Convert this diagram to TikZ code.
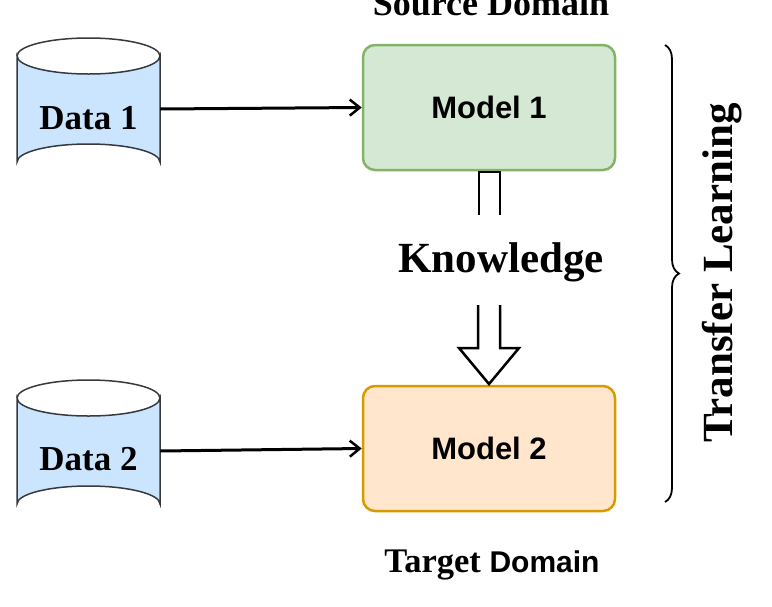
\documentclass[tikz,border=0pt]{standalone}
\usepackage{fontspec}
\setmainfont{Liberation Serif}
\setsansfont{Liberation Sans}
\usetikzlibrary{shapes.geometric,arrows.meta,decorations.pathreplacing}
\definecolor{gfill}{HTML}{D5E8D4}\definecolor{gline}{HTML}{82B366}
\definecolor{ofill}{HTML}{FFE6CC}\definecolor{oline}{HTML}{D79B00}
\definecolor{bfill}{HTML}{CCE5FF}\definecolor{bline}{HTML}{36393D}
\tikzset{
 dbline/.style={draw=bline,fill=bfill,line width=1.5pt},
 dbtext/.style={font=\bfseries\fontsize{35}{38}\selectfont,minimum width=143pt,minimum height=142pt,inner sep=0pt,text depth=0pt},
 model/.style={draw,rounded corners=12pt,line width=2.5pt,minimum width=252pt,minimum height=125pt,font=\sffamily\bfseries\fontsize{31}{36}\selectfont},
 conn/.style={line width=3pt,-{Straight Barb[length=10pt,width=16pt,line width=2.5pt]}},
}
\begin{document}
\begin{tikzpicture}[x=1pt,y=-1pt]
\useasboundingbox (0,0) rectangle (772,606);
\foreach \yy in {38,380}{
 \path[dbline] (17,\yy+18) -- (17,\yy+124) arc[start angle=180,end angle=360,x radius=71.5,y radius=18] -- (160,\yy+18) arc[start angle=0,end angle=180,x radius=71.5,y radius=18] -- cycle;
 \draw[bline,line width=1.5pt] (17,\yy+18) arc[start angle=180,end angle=360,x radius=71.5,y radius=18];
}
\node[dbtext] (d1) at (88.5,109) {\raisebox{-18pt}{Data 1}};
\node[dbtext] (d2) at (88.5,451) {\raisebox{-16pt}{Data 2}};
\node[model,fill=gfill,draw=gline] (m1) at (489,107.5) {Model 1};
\node[model,fill=ofill,draw=oline] (m2) at (489,448.5) {Model 2};
\draw[conn] (d1.east) -- (m1.west);
\draw[conn] (d2.east) -- (m2.west);
\node[font=\bfseries\fontsize{43}{45}\selectfont] (kn) at (501,262) {Knowledge};
\node[font=\bfseries\fontsize{36}{38}\selectfont,anchor=north] (src) at (491,-13) {Source Domain};
\node[font=\fontsize{34.5}{38}\selectfont,anchor=base] (tgt) at (492,572) {\textbf{Target} \textsf{\bfseries\fontsize{30}{32}\selectfont Domain}};
\draw[line width=2.5pt] (479,215) -- (479,172) -- (500,172) -- (500,215);
\draw[line width=2.5pt,fill=white,line join=miter] (478,305) -- (478,348) -- (459,348) -- (489,384) -- (519,348) -- (500,348) -- (500,305);
\draw[line width=1.8pt,decorate,decoration={brace,amplitude=14pt}] (665,45) coordinate (b1) -- (665,502) coordinate (b2);
\node[font=\bfseries\fontsize{43}{45}\selectfont,rotate=90] (tl) at (722,273) {Transfer Learning};
\end{tikzpicture}
\end{document}
